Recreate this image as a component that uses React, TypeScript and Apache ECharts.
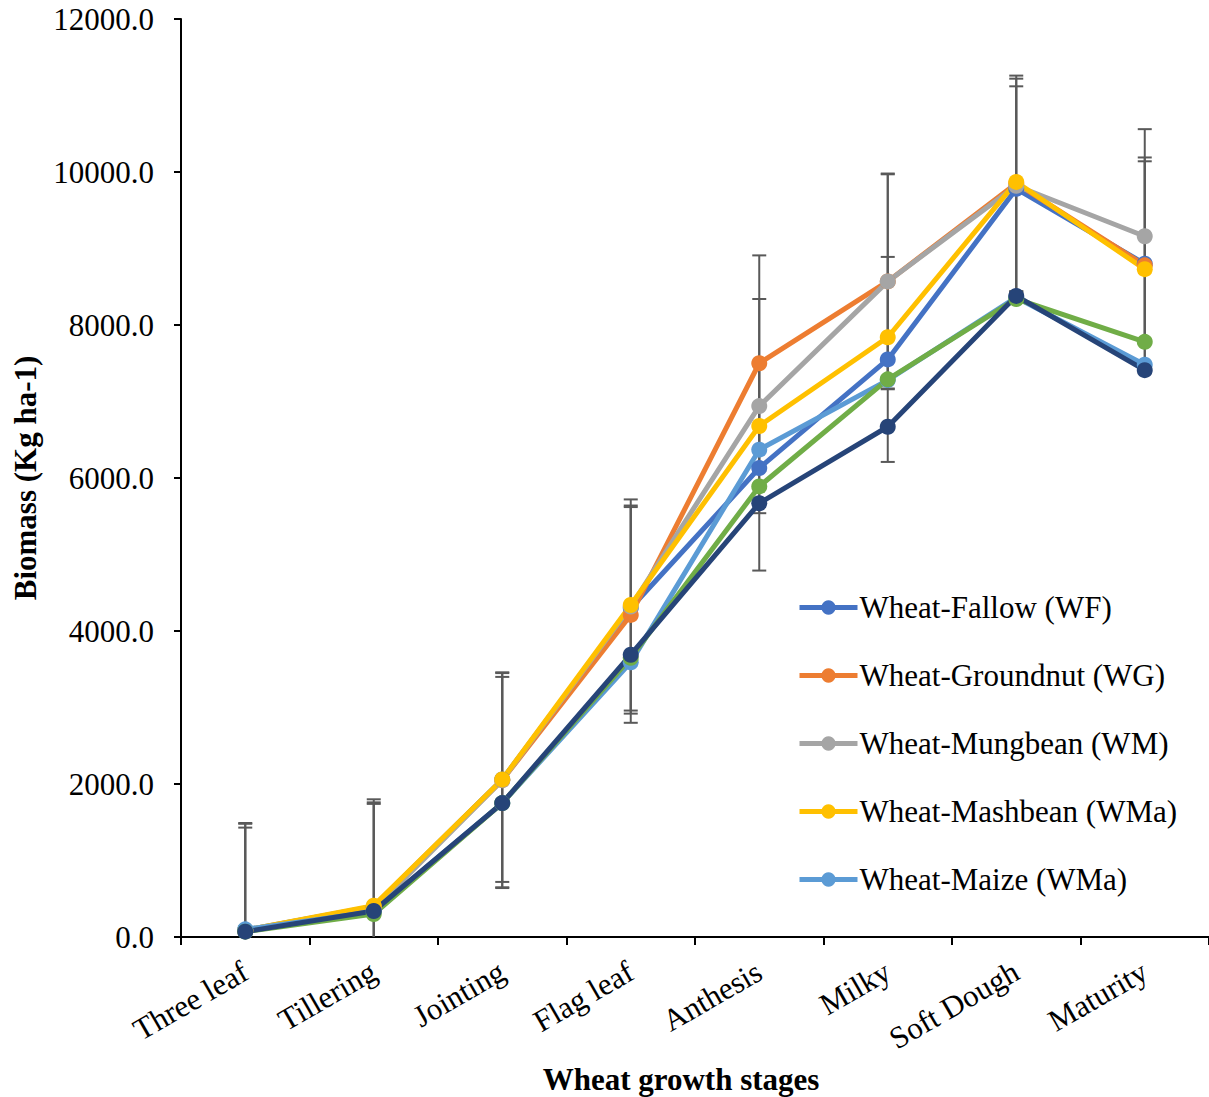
import React, { useEffect, useRef } from "react";
import * as echarts from "echarts";

const categories = ["Three leaf", "Tillering", "Jointing", "Flag leaf", "Anthesis", "Milky", "Soft Dough", "Maturity"];
const yTicks = [0, 2000, 4000, 6000, 8000, 10000, 12000];

const wfValues = [90, 400, 2060, 4300, 6130, 7550, 9780, 8800];
const wgValues = [80, 390, 2050, 4210, 7500, 8570, 9850, 8780];
const wmValues = [80, 360, 2050, 4320, 6940, 8570, 9820, 9160];
const wmaValues = [90, 410, 2060, 4340, 6680, 7840, 9870, 8730];
const maizeValues = [100, 330, 1750, 3590, 6370, 7280, 8360, 7480];
const greenValues = [70, 300, 1750, 3650, 5890, 7290, 8340, 7780];
const navyValues = [70, 340, 1750, 3690, 5670, 6670, 8380, 7410];

const wfErr = [1340, 1340, 1340, 1340, 1340, 1340, 1340, 1340];
const wgErr = [1410, 1410, 1410, 1410, 1410, 1410, 1410, 1410];
const wmErr = [1400, 1400, 1400, 1400, 1400, 1400, 1400, 1400];

const legendNames = [
  "Wheat-Fallow (WF)",
  "Wheat-Groundnut (WG)",
  "Wheat-Mungbean (WM)",
  "Wheat-Mashbean (WMa)",
  "Wheat-Maize (WMa)",
];

const FONT = "'Liberation Serif', 'Times New Roman', serif";

export default function App() {
  const ref = useRef<HTMLDivElement>(null);
  useEffect(() => {
    if (!ref.current) return;
    const chart = echarts.init(ref.current, undefined, { renderer: "svg" });

    const lines = [
      { name: legendNames[0], data: wfValues, color: "#4472C4" },
      { name: legendNames[1], data: wgValues, color: "#ED7D31" },
      { name: legendNames[2], data: wmValues, color: "#A5A5A5" },
      { name: legendNames[3], data: wmaValues, color: "#FFC000" },
      { name: legendNames[4], data: maizeValues, color: "#5B9BD5" },
      { name: "Series 6", data: greenValues, color: "#70AD47" },
      { name: "Series 7", data: navyValues, color: "#264478" },
    ];

    const errSets = [
      { values: wfValues, err: wfErr },
      { values: wgValues, err: wgErr },
      { values: wmValues, err: wmErr },
    ];

    const errorSeries = errSets.map((s, k) => ({
      type: "custom",
      name: "err" + k,
      z: 1,
      silent: true,
      encode: { x: 0, y: [1, 2] },
      data: s.values.map((v, i) => [i, Math.max(0, v - s.err[i]), v + s.err[i]]),
      renderItem: (params: any, api: any) => {
        const x = api.value(0);
        const lo = api.value(1);
        const hi = api.value(2);
        const pLo = api.coord([x, lo]);
        const pHi = api.coord([x, hi]);
        const w = 7;
        const st = { stroke: "#595959", lineWidth: 2 };
        const children: any[] = [
          { type: "line", shape: { x1: pLo[0], y1: pLo[1], x2: pHi[0], y2: pHi[1] }, style: st },
          { type: "line", shape: { x1: pHi[0] - w, y1: pHi[1], x2: pHi[0] + w, y2: pHi[1] }, style: st },
        ];
        if (lo > 0) {
          children.push({ type: "line", shape: { x1: pLo[0] - w, y1: pLo[1], x2: pLo[0] + w, y2: pLo[1] }, style: st });
        }
        return { type: "group", children };
      },
    }));

    const lineSeries = lines.map((l) => ({
      type: "line",
      name: l.name,
      z: 2,
      data: l.data,
      symbol: "circle",
      symbolSize: 16,
      showSymbol: true,
      lineStyle: { color: l.color, width: 5 },
      itemStyle: { color: l.color },
      emphasis: { disabled: true },
    }));

    chart.setOption({
      animation: false,
      grid: { left: 181, right: 0, top: 19, bottom: 160, containLabel: false },
      legend: {
        data: legendNames,
        orient: "vertical",
        left: 792,
        top: 587,
        itemWidth: 58,
        itemHeight: 18,
        itemGap: 37,
        lineStyle: { width: 5 },
        textStyle: { fontFamily: FONT, fontSize: 31, color: "#000", lineHeight: 31, padding: [0, 0, 0, -3] },
        selectedMode: false,
      },
      xAxis: {
        type: "category",
        data: categories,
        boundaryGap: true,
        axisLine: { show: true, lineStyle: { color: "#000", width: 2 } },
        axisTick: { show: true, length: 8, lineStyle: { color: "#000", width: 2 } },
        axisLabel: {
          rotate: 30,
          interval: 0,
          margin: 32,
          fontFamily: FONT,
          fontSize: 31,
          color: "#000",
        },
        splitLine: { show: false },
      },
      yAxis: {
        type: "value",
        min: yTicks[0],
        max: yTicks[yTicks.length - 1],
        interval: 2000,
        axisLine: { show: true, lineStyle: { color: "#000", width: 2 } },
        axisTick: { show: true, length: 7, lineStyle: { color: "#000", width: 2 } },
        axisLabel: {
          margin: 27,
          fontFamily: FONT,
          fontSize: 31,
          color: "#000",
          formatter: (v: number) => v.toFixed(1),
        },
        splitLine: { show: false },
      },
      graphic: [
        {
          type: "text",
          x: 681,
          y: 1079,
          style: {
            text: "Wheat growth stages",
            fontFamily: FONT,
            fontWeight: "bold",
            fontSize: 31,
            fill: "#000",
            align: "center",
            verticalAlign: "middle",
          },
        },
        {
          type: "text",
          x: 25,
          y: 478,
          rotation: Math.PI / 2,
          style: {
            text: "Biomass (Kg ha-1)",
            fontFamily: FONT,
            fontWeight: "bold",
            fontSize: 31,
            fill: "#000",
            align: "center",
            verticalAlign: "middle",
          },
        },
      ],
      series: [...errorSeries, ...lineSeries],
    });

    return () => chart.dispose();
  }, []);

  return (
    <div
      ref={ref}
      style={{ position: "absolute", left: 0, top: 0, width: 1209, height: 1097, background: "#fff" }}
    />
  );
}
